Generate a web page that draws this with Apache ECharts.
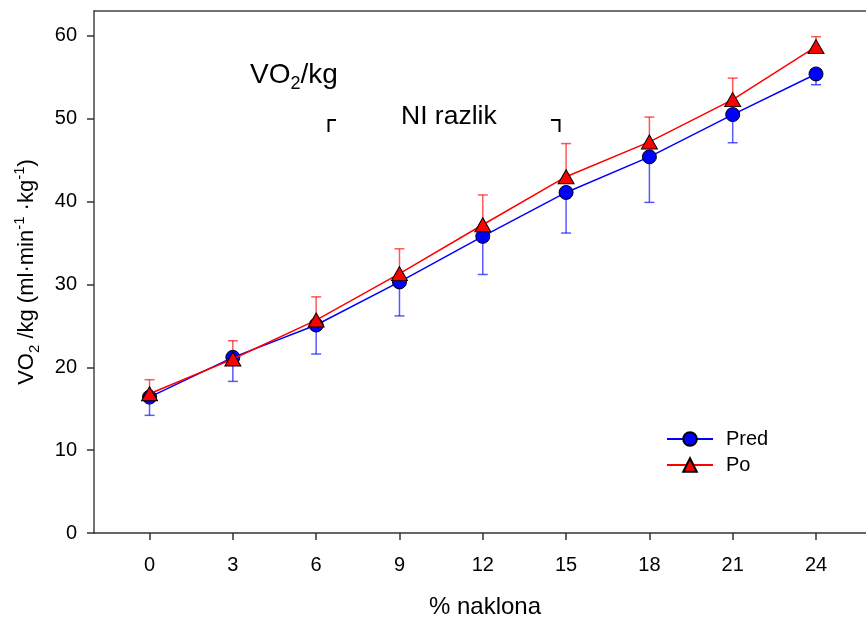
<!DOCTYPE html>
<html>
<head>
<meta charset="utf-8">
<script src="https://cdn.jsdelivr.net/npm/echarts@6/dist/echarts.min.js"></script>
<style>
  html, body { margin: 0; padding: 0; background: #fff; }
  #chart { width: 866px; height: 618px; }
</style>
</head>
<body>
<div id="chart"></div>
<script>
// % naklona
var incline = [0, 3, 6, 9, 12, 15, 18, 21, 24];
// Pred (mean, lower end of error bar)
var predMean = [16.4, 21.2, 25.1, 30.3, 35.8, 41.1, 45.4, 50.5, 55.4];
var predLow  = [14.2, 18.3, 21.6, 26.2, 31.2, 36.2, 39.9, 47.1, 54.1];
// Po (mean, upper end of error bar)
var poMean = [16.8, 21.0, 25.7, 31.3, 37.2, 43.0, 47.2, 52.3, 58.7];
var poHigh = [18.5, 23.2, 28.5, 34.3, 40.8, 47.0, 50.2, 54.9, 59.9];
var yTicks = [0, 10, 20, 30, 40, 50, 60];

function pairs(xs, ys) {
  var out = [];
  for (var i = 0; i < xs.length; i++) out.push([xs[i], ys[i]]);
  return out;
}

// error bar: mean -> bound, with a small cap
function errBar(color) {
  return function (params, api) {
    var p0 = api.coord([api.value(0), api.value(1)]);
    var p1 = api.coord([api.value(0), api.value(2)]);
    var st = { stroke: color, lineWidth: 1.5 };
    return {
      type: 'group',
      children: [
        { type: 'line', shape: { x1: p0[0], y1: p0[1], x2: p1[0], y2: p1[1] }, style: st },
        { type: 'line', shape: { x1: p1[0] - 5, y1: p1[1], x2: p1[0] + 5, y2: p1[1] }, style: st }
      ]
    };
  };
}

var chart = echarts.init(document.getElementById('chart'));
var font = 'Liberation Sans, Arial, sans-serif';

var option = {
  animation: false,
  textStyle: { fontFamily: font },
  grid: { left: 94, right: 0, top: 11, bottom: 85, containLabel: false, outerBoundsMode: 'none' },
  legend: {
    data: ['Pred', 'Po'],
    orient: 'vertical',
    left: 666,
    top: 429,
    padding: 0,
    itemWidth: 46,
    itemHeight: 17,
    itemGap: 6,
    textStyle: { fontSize: 20, color: '#000', padding: [0, 0, 0, 8] }
  },
  xAxis: [{
    type: 'value',
    min: -2,
    max: 25.8,
    name: '% naklona',
    nameLocation: 'middle',
    nameGap: 62,
    nameTextStyle: { fontSize: 24, color: '#000', padding: [0, 0, 0, 10] },
    axisLine: { show: true, onZero: false, lineStyle: { color: '#333', width: 1.5 } },
    axisTick: { show: true, length: 7, customValues: incline, lineStyle: { color: '#333', width: 1.5 } },
    axisLabel: { customValues: incline, margin: 22, fontSize: 20, color: '#000' },
    splitLine: { show: false }
  }, {
    type: 'value',
    position: 'top',
    min: -2,
    max: 25.8,
    axisLine: { show: true, onZero: false, lineStyle: { color: '#444', width: 1.5 } },
    axisTick: { show: false },
    axisLabel: { show: false },
    splitLine: { show: false }
  }],
  yAxis: {
    type: 'value',
    min: 0,
    max: 63,
    name: '{n|VO}{sub|2}{n| /kg (ml·min}{sup|-1}{n| ·kg}{sup|-1}{n|)}',
    nameLocation: 'middle',
    nameRotate: 90,
    nameGap: 52,
    nameTextStyle: {
      color: '#000',
      rich: {
        n: { fontSize: 22, lineHeight: 30, color: '#000', verticalAlign: 'middle' },
        sub: { fontSize: 15, lineHeight: 30, color: '#000', verticalAlign: 'bottom' },
        sup: { fontSize: 15, lineHeight: 30, color: '#000', verticalAlign: 'top' }
      }
    },
    axisLine: { show: true, onZero: false, lineStyle: { color: '#444', width: 1.5 } },
    axisTick: { show: true, length: 7, customValues: yTicks, lineStyle: { color: '#333', width: 1.5 } },
    axisLabel: { customValues: yTicks, margin: 17, fontSize: 20, color: '#000' },
    splitLine: { show: false }
  },
  series: [
    {
      name: 'predErr',
      type: 'custom',
      renderItem: errBar('rgba(0,0,255,0.65)'),
      encode: { x: 0, y: [1, 2] },
      data: incline.map(function (x, i) { return [x, predMean[i], predLow[i]]; }),
      z: 1
    },
    {
      name: 'poErr',
      type: 'custom',
      renderItem: errBar('rgba(255,0,0,0.65)'),
      encode: { x: 0, y: [1, 2] },
      data: incline.map(function (x, i) { return [x, poMean[i], poHigh[i]]; }),
      z: 1
    },
    {
      name: 'Pred',
      type: 'line',
      data: pairs(incline, predMean),
      symbol: 'circle',
      symbolSize: 14,
      lineStyle: { color: '#0000ff', width: 1.5 },
      itemStyle: { color: '#0000ff', borderColor: '#000', borderWidth: 1 },
      z: 3
    },
    {
      name: 'Po',
      type: 'line',
      data: pairs(incline, poMean),
      symbol: 'triangle',
      symbolSize: [16, 14],
      lineStyle: { color: '#ff0000', width: 1.5 },
      itemStyle: { color: '#ff0000', borderColor: '#000', borderWidth: 1 },
      z: 4
    }
  ],
  graphic: [
    {
      type: 'text',
      left: 250,
      top: 61,
      style: {
        text: '{n|VO}{sub|2}{n|/kg}',
        rich: {
          n: { fontSize: 28, fontFamily: font, fill: '#000', lineHeight: 36, verticalAlign: 'middle' },
          sub: { fontSize: 18, fontFamily: font, fill: '#000', lineHeight: 36, verticalAlign: 'bottom' }
        }
      }
    },
    {
      type: 'text',
      left: 401,
      top: 103,
      style: { text: 'NI razlik', fontSize: 26.5, fontFamily: font, fill: '#000' }
    },
    {
      type: 'polyline',
      shape: { points: [[328.5, 132], [328.5, 120], [336, 120]] },
      style: { stroke: '#000', lineWidth: 2, fill: null }
    },
    {
      type: 'polyline',
      shape: { points: [[551, 120], [559.5, 120], [559.5, 132]] },
      style: { stroke: '#000', lineWidth: 2, fill: null }
    }
  ]
};

chart.setOption(option);
</script>
</body>
</html>
